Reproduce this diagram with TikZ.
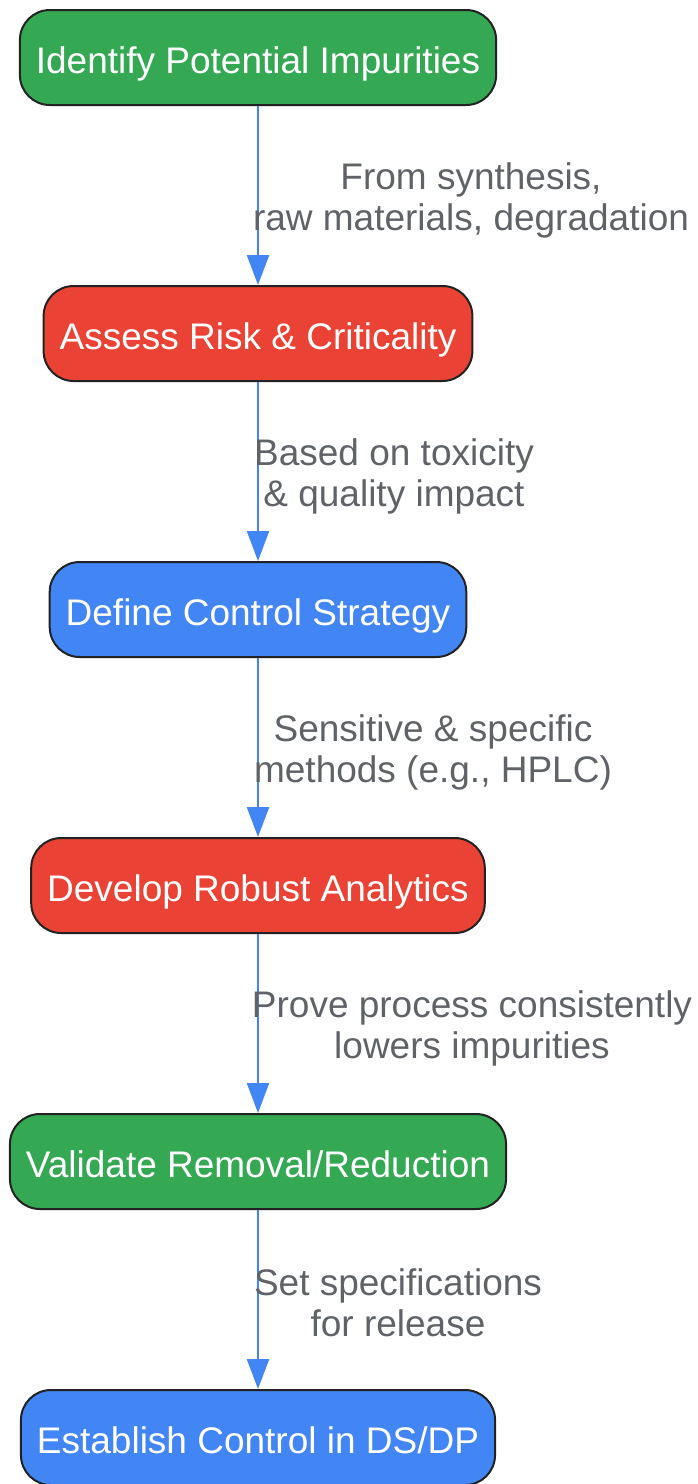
\documentclass[tikz,border=0pt]{standalone}
\usepackage{fontspec}
\setmainfont{Liberation Sans}
\usetikzlibrary{arrows.meta}
\definecolor{gGreen}{HTML}{34A853}
\definecolor{gRed}{HTML}{EA4335}
\definecolor{gBlue}{HTML}{4285F4}
\definecolor{lblGray}{HTML}{5F6368}
\definecolor{edgeDark}{HTML}{222222}
\tikzset{
  box/.style={draw=edgeDark, line width=2pt, rounded corners=30pt, minimum height=95pt,
    inner xsep=16pt, inner ysep=0pt, text height=35pt, text depth=4pt,
    text=white, font=\fontsize{37}{41}\selectfont},
  greenbox/.style={box, fill=gGreen},
  redbox/.style={box, fill=gRed},
  bluebox/.style={box, fill=gBlue},
  flow/.style={draw=gBlue, line width=2.3pt, -{Triangle[width=22pt,length=30pt]}},
  lbl/.style={text=lblGray, align=center, inner sep=0pt, font=\fontsize{37}{41}\selectfont}
}
\begin{document}
\begin{tikzpicture}[x=1pt,y=-1pt]
\useasboundingbox (0,0) rectangle (697,1484);
\node[greenbox] (n1) at (258,57.5) {Identify Potential Impurities};
\node[redbox]   (n2) at (258,333.5) {Assess Risk \& Criticality};
\node[bluebox]  (n3) at (258,609.5) {Define Control Strategy};
\node[redbox]   (n4) at (258,885.5) {Develop Robust Analytics};
\node[greenbox] (n5) at (258,1161.5) {Validate Removal/Reduction};
\node[bluebox]  (n6) at (258,1437.5) {Establish Control in DS/DP};
\draw[flow] (n1.south) -- (n2.north);
\draw[flow] (n2.south) -- (n3.north);
\draw[flow] (n3.south) -- (n4.north);
\draw[flow] (n4.south) -- (n5.north);
\draw[flow] (n5.south) -- (n6.north);
\node[lbl] (l1) at (471,200) {From synthesis,\\raw materials, degradation};
\node[lbl] (l2) at (394,476) {Based on toxicity\\\& quality impact};
\node[lbl] (l3) at (433,752) {Sensitive \& specific\\methods (e.g., HPLC)};
\node[lbl] (l4) at (472,1028) {Prove process consistently\\lowers impurities};
\node[lbl] (l5) at (398,1303) {Set specifications\\for release};
\end{tikzpicture}
\end{document}
